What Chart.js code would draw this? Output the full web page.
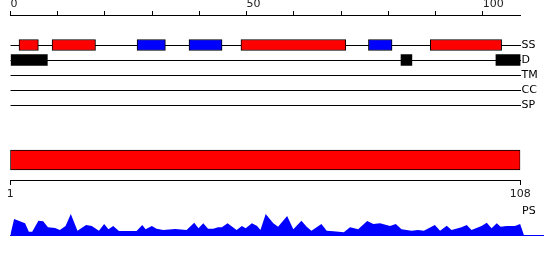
<!DOCTYPE html>
<html>
<head>
<meta charset="utf-8">
<script src="https://cdn.jsdelivr.net/npm/chart.js@4/dist/chart.umd.min.js"></script>
<style>
  html, body { margin: 0; padding: 0; background: #fff; }
  #wrap { position: relative; width: 550px; height: 260px; overflow: hidden; }
  canvas { position: absolute; left: 0; }
  #psLabel { position: absolute; left: 522px; top: 205px; font: 11px "DejaVu Sans"; line-height: 11px; color: #000; }
</style>
</head>
<body>
<div id="wrap">
  <canvas id="tracks" style="top:0" width="550" height="120"></canvas>
  <canvas id="seqbar" style="top:140px" width="550" height="65"></canvas>
  <canvas id="profile" style="top:205px" width="550" height="35"></canvas>
  <div id="psLabel">PS</div>
</div>
<script>
// feature tracks (top)
const trackNames = ["SS", "D", "TM", "CC", "SP"];
const helixSegs = [[1.8, 5.9], [8.8, 18], [48.8, 71], [88.9, 104]];
const strandSegs = [[26.8, 32.8], [37.8, 44.8], [75.8, 80.8]];
const disorderSegs = [[0, 7.8], [82.7, 85], [102.8, 108]];
const topTickLabels = [0, 50, 100];

// sequence bar
const seqRange = [1, 108];

// PS profile
const psPos = [1.0, 1.8, 4.1, 4.9, 5.6, 6.9, 7.9, 8.9, 10.4, 11.4, 12.6, 13.7, 15.1, 16.9, 18.1, 19.6,
  20.7, 21.6, 22.6, 23.8, 27.5, 28.7, 29.4, 30.7, 31.7, 33.1, 35.6, 38.0, 39.6, 40.5, 41.5, 42.5,
  43.6, 44.6, 45.4, 46.6, 48.5, 49.6, 50.4, 51.7, 52.8, 53.5, 54.6, 56.2, 57.2, 59.1, 60.4, 62.1,
  63.2, 64.2, 66.3, 67.4, 68.8, 71.0, 72.3, 74.0, 75.9, 77.2, 78.6, 80.7, 81.9, 83.1, 85.2, 86.6,
  87.8, 90.1, 91.2, 92.6, 93.6, 95.7, 96.8, 97.8, 99.9, 101.0, 102.0, 103.1, 103.9, 105.2, 106.9,
  108.0, 108.8];
const psVal = [0, 16, 11.7, 3.3, 3.3, 14.3, 13.7, 7.7, 7, 5, 9, 21, 4.3, 10, 9, 4.3,
  11, 5.7, 9, 4, 4, 10, 5.7, 9, 6.3, 5, 6, 5, 12.3, 6.7, 11.7, 6.3,
  6.3, 7.7, 7.7, 11.7, 5, 9, 6.7, 11.7, 9, 5, 21, 11.7, 8.3, 19, 5.7, 14.3,
  8.3, 4.3, 11, 4.3, 3.7, 2.7, 7.7, 5.7, 14, 11, 11.7, 9, 11, 5.7, 4.3, 5,
  4.3, 10, 4.3, 9.3, 5, 7.7, 10, 5, 9, 12.3, 6.7, 11.7, 8.3, 9, 9,
  11, 0];

Chart.defaults.font.family = "DejaVu Sans";
Chart.defaults.font.size = 11;
Chart.defaults.animation = false;
Chart.defaults.responsive = false;
Chart.defaults.plugins.legend.display = false;
Chart.defaults.plugins.tooltip.enabled = false;

// fixed axis size, no label overhang padding
const fitTo = (w, h) => s => {
  if (w != null) s.width = w;
  if (h != null) s.height = h;
  s.paddingTop = s.paddingBottom = 0;
};

const segData = (segs, track) => segs.map(([a, b]) => ({ x: [a, b], y: trackNames.indexOf(track) }));

new Chart(document.getElementById("tracks"), {
  type: "bar",
  data: {
    datasets: [
      { data: segData(helixSegs, "SS"), backgroundColor: "#ff0000", borderColor: "#000", borderWidth: 1 },
      { data: segData(strandSegs, "SS"), backgroundColor: "#0000ff", borderColor: "#000", borderWidth: 1 },
      { data: segData(disorderSegs, "D"), backgroundColor: "#000", borderWidth: 0 }
    ]
  },
  options: {
    indexAxis: "y",
    grouped: false,
    barThickness: 11,
    borderSkipped: false,
    layout: { padding: { left: 10.5, right: 0, top: 0, bottom: 0 } },
    scales: {
      x: {
        type: "linear", position: "top", min: 0, max: 108,
        ticks: {
          stepSize: 10, includeBounds: false, align: "start", padding: 0, color: "#222",
          callback: v => topTickLabels.includes(v) ? String(v) : ""
        },
        grid: { drawOnChartArea: false, tickLength: 4, color: "#000" },
        border: { color: "#000" },
        afterFit: fitTo(null, 15)
      },
      y: {
        type: "linear", position: "right", reverse: true, min: -2, max: 5, offset: false,
        afterBuildTicks: s => { s.ticks = trackNames.map((_, i) => ({ value: i })); },
        ticks: { padding: 1, color: "#000", callback: v => trackNames[v] },
        grid: { drawTicks: false, offset: false, color: "#000" },
        border: { display: false },
        afterFit: fitTo(29.5, null)
      }
    }
  }
});

new Chart(document.getElementById("seqbar"), {
  type: "bar",
  data: {
    labels: [""],
    datasets: [{ data: [seqRange], backgroundColor: "#ff0000", borderColor: "#000", borderWidth: 1, borderSkipped: false, barThickness: 20 }]
  },
  options: {
    indexAxis: "y",
    layout: { padding: { left: 10.3, right: 29.7, top: 0, bottom: 0 } },
    scales: {
      x: {
        type: "linear", min: seqRange[0], max: seqRange[1],
        afterBuildTicks: s => { s.ticks = seqRange.map(v => ({ value: v })); },
        ticks: { padding: 3, color: "#222", maxRotation: 0 },
        grid: { drawOnChartArea: false, tickLength: 5, color: "#000" },
        border: { color: "#000" },
        afterFit: fitTo(null, 25)
      },
      y: { display: false }
    }
  }
});

new Chart(document.getElementById("profile"), {
  type: "line",
  data: {
    datasets: [{
      data: psPos.map((x, i) => ({ x, y: psVal[i] })),
      fill: "origin", backgroundColor: "#0000ff", borderWidth: 0, pointRadius: 0, tension: 0
    }]
  },
  options: {
    layout: { padding: { left: 10.3, right: 7, top: 5, bottom: 5 } },
    scales: {
      x: {
        type: "linear", min: 1, max: 112.8,
        ticks: { display: false },
        grid: { display: false },
        border: { color: "#0000ff", width: 1 },
        afterFit: fitTo(null, 0)
      },
      y: { min: 0, max: 25, display: false }
    }
  }
});
</script>
</body>
</html>
